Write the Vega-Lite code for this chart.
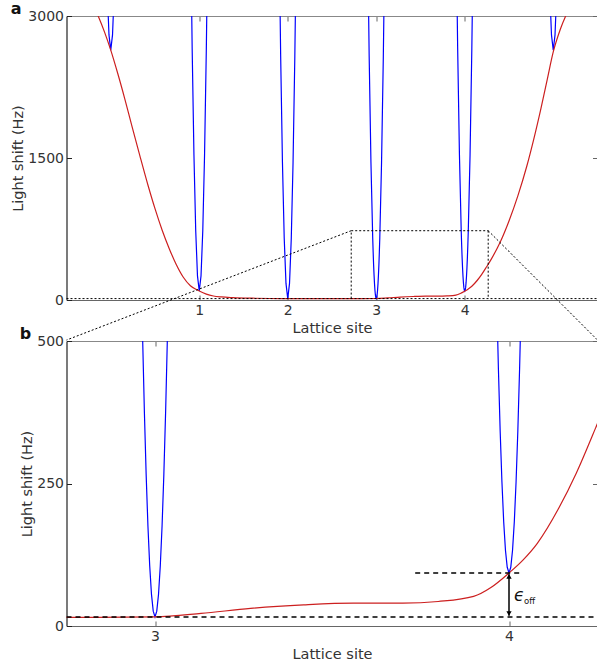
{
  "$schema": "https://vega.github.io/schema/vega-lite/v6.json",
  "background": "white",
  "padding": {"left": 10.5, "top": 1, "right": 0, "bottom": 0},
  "spacing": -17,
  "config": {
    "font": "DejaVu Sans",
    "view": {"stroke": null},
    "axis": {
      "labelFont": "DejaVu Sans", "titleFont": "DejaVu Sans",
      "labelFontSize": 14, "titleFontSize": 14.5, "titleFontWeight": "normal",
      "labelColor": "#333", "titleColor": "#333", "format": "d",
      "grid": false, "tickSize": -5, "labelPadding": 8, "titlePadding": 2,
      "domainColor": "#666", "tickColor": "#666", "domainWidth": 1.2, "tickWidth": 1
    },
    "axisX": {"titlePadding": 4},
    "title": {"font": "DejaVu Sans", "fontSize": 16, "fontWeight": "bold", "color": "#111", "anchor": "start", "frame": "bounds", "baseline": "alphabetic"}
  },
  "datasets": {
    "red": [
      {"x": -0.2, "hz": 3120}, {"x": -0.142, "hz": 3000}, {"x": -0.07, "hz": 2830}, {"x": 0.0, "hz": 2640},
      {"x": 0.08, "hz": 2390}, {"x": 0.16, "hz": 2120}, {"x": 0.24, "hz": 1835}, {"x": 0.33, "hz": 1520},
      {"x": 0.42, "hz": 1215}, {"x": 0.5, "hz": 965}, {"x": 0.58, "hz": 740}, {"x": 0.66, "hz": 545},
      {"x": 0.74, "hz": 375}, {"x": 0.82, "hz": 240}, {"x": 0.9, "hz": 150}, {"x": 1.0, "hz": 95},
      {"x": 1.08, "hz": 62}, {"x": 1.16, "hz": 42}, {"x": 1.25, "hz": 32}, {"x": 1.38, "hz": 25},
      {"x": 1.6, "hz": 19}, {"x": 1.8, "hz": 16}, {"x": 2.0, "hz": 15}, {"x": 2.25, "hz": 14},
      {"x": 2.5, "hz": 14}, {"x": 2.75, "hz": 15}, {"x": 3.0, "hz": 16}, {"x": 3.13, "hz": 22},
      {"x": 3.27, "hz": 31}, {"x": 3.42, "hz": 37}, {"x": 3.56, "hz": 40}, {"x": 3.7, "hz": 40},
      {"x": 3.8, "hz": 43}, {"x": 3.9, "hz": 52}, {"x": 3.95, "hz": 68}, {"x": 4.0, "hz": 93},
      {"x": 4.04, "hz": 116}, {"x": 4.08, "hz": 145}, {"x": 4.14, "hz": 206}, {"x": 4.19, "hz": 268},
      {"x": 4.245, "hz": 348}, {"x": 4.3, "hz": 432}, {"x": 4.4, "hz": 610}, {"x": 4.5, "hz": 835},
      {"x": 4.6, "hz": 1100}, {"x": 4.7, "hz": 1410}, {"x": 4.78, "hz": 1700}, {"x": 4.86, "hz": 2020},
      {"x": 4.93, "hz": 2320}, {"x": 5.0, "hz": 2620}, {"x": 5.08, "hz": 2860}, {"x": 5.16, "hz": 3040},
      {"x": 5.22, "hz": 3150}
    ],
    "blue": [
      {"s": 0, "x": -0.06, "hz": 4080}, {"s": 0, "x": -0.04, "hz": 3280}, {"s": 0, "x": -0.02, "hz": 2800}, {"s": 0, "x": 0.0, "hz": 2640}, {"s": 0, "x": 0.02, "hz": 2800}, {"s": 0, "x": 0.04, "hz": 3280}, {"s": 0, "x": 0.06, "hz": 4080},
      {"s": 1, "x": 0.9, "hz": 4095}, {"s": 1, "x": 0.92, "hz": 2655}, {"s": 1, "x": 0.94, "hz": 1535}, {"s": 1, "x": 0.96, "hz": 735}, {"s": 1, "x": 0.98, "hz": 255}, {"s": 1, "x": 1.0, "hz": 95}, {"s": 1, "x": 1.02, "hz": 255}, {"s": 1, "x": 1.04, "hz": 735}, {"s": 1, "x": 1.06, "hz": 1535}, {"s": 1, "x": 1.08, "hz": 2655}, {"s": 1, "x": 1.1, "hz": 4095},
      {"s": 2, "x": 1.9, "hz": 4015}, {"s": 2, "x": 1.92, "hz": 2575}, {"s": 2, "x": 1.94, "hz": 1455}, {"s": 2, "x": 1.96, "hz": 655}, {"s": 2, "x": 1.98, "hz": 175}, {"s": 2, "x": 2.0, "hz": 15}, {"s": 2, "x": 2.02, "hz": 175}, {"s": 2, "x": 2.04, "hz": 655}, {"s": 2, "x": 2.06, "hz": 1455}, {"s": 2, "x": 2.08, "hz": 2575}, {"s": 2, "x": 2.1, "hz": 4015},
      {"s": 3, "x": 2.9, "hz": 4016}, {"s": 3, "x": 2.92, "hz": 2576}, {"s": 3, "x": 2.94, "hz": 1456}, {"s": 3, "x": 2.96, "hz": 656}, {"s": 3, "x": 2.965, "hz": 506}, {"s": 3, "x": 2.97, "hz": 376}, {"s": 3, "x": 2.975, "hz": 266}, {"s": 3, "x": 2.98, "hz": 176}, {"s": 3, "x": 2.985, "hz": 106}, {"s": 3, "x": 2.99, "hz": 56}, {"s": 3, "x": 2.995, "hz": 26}, {"s": 3, "x": 3.0, "hz": 16},
      {"s": 3, "x": 3.005, "hz": 26}, {"s": 3, "x": 3.01, "hz": 56}, {"s": 3, "x": 3.015, "hz": 106}, {"s": 3, "x": 3.02, "hz": 176}, {"s": 3, "x": 3.025, "hz": 266}, {"s": 3, "x": 3.03, "hz": 376}, {"s": 3, "x": 3.035, "hz": 506}, {"s": 3, "x": 3.04, "hz": 656}, {"s": 3, "x": 3.06, "hz": 1456}, {"s": 3, "x": 3.08, "hz": 2576}, {"s": 3, "x": 3.1, "hz": 4016},
      {"s": 4, "x": 3.9, "hz": 4093}, {"s": 4, "x": 3.92, "hz": 2653}, {"s": 4, "x": 3.94, "hz": 1533}, {"s": 4, "x": 3.96, "hz": 733}, {"s": 4, "x": 3.965, "hz": 583}, {"s": 4, "x": 3.97, "hz": 453}, {"s": 4, "x": 3.975, "hz": 343}, {"s": 4, "x": 3.98, "hz": 253}, {"s": 4, "x": 3.985, "hz": 183}, {"s": 4, "x": 3.99, "hz": 133}, {"s": 4, "x": 3.995, "hz": 103}, {"s": 4, "x": 4.0, "hz": 93},
      {"s": 4, "x": 4.005, "hz": 103}, {"s": 4, "x": 4.01, "hz": 133}, {"s": 4, "x": 4.015, "hz": 183}, {"s": 4, "x": 4.02, "hz": 253}, {"s": 4, "x": 4.025, "hz": 343}, {"s": 4, "x": 4.03, "hz": 453}, {"s": 4, "x": 4.035, "hz": 583}, {"s": 4, "x": 4.04, "hz": 733}, {"s": 4, "x": 4.06, "hz": 1533}, {"s": 4, "x": 4.08, "hz": 2653}, {"s": 4, "x": 4.1, "hz": 4093},
      {"s": 5, "x": 4.94, "hz": 4080}, {"s": 5, "x": 4.96, "hz": 3280}, {"s": 5, "x": 4.98, "hz": 2800}, {"s": 5, "x": 5.0, "hz": 2640}, {"s": 5, "x": 5.02, "hz": 2800}, {"s": 5, "x": 5.04, "hz": 3280}, {"s": 5, "x": 5.06, "hz": 4080}
    ],
    "zoomA": [
      {"x": 2.717, "y": 15, "x2": 2.717, "y2": 732},
      {"x": 2.717, "y": 732, "x2": 4.265, "y2": 732},
      {"x": 4.265, "y": 732, "x2": 4.265, "y2": 15},
      {"x": -0.5, "y": 15, "x2": 5.5, "y2": 15},
      {"x": 2.717, "y": 732, "x2": -0.5, "y2": -423},
      {"x": 4.265, "y": 732, "x2": 5.5, "y2": -423}
    ],
    "dashB": [
      {"x": 2.75, "y": 16, "x2": 4.25, "y2": 16},
      {"x": 3.735, "y": 93, "x2": 4.04, "y2": 93}
    ],
    "arrow": [{"x": 4, "y": 18, "x2": 4, "y2": 91}],
    "headUp": [{"x": 4, "hz": 87}],
    "headDown": [{"x": 4, "hz": 22}],
    "eps": [{"x": 4, "hz": 43, "t": "ϵ"}],
    "epsSub": [{"x": 4, "hz": 39, "t": "off"}]
  },
  "vconcat": [
    {
      "width": 531, "height": 284,
      "title": {"text": "a", "offset": -8.3},
      "resolve": {"axis": {"x": "independent", "y": "independent"}},
      "layer": [
        {
          "data": {"name": "blue"},
          "mark": {"type": "line", "color": "#0000ff", "strokeWidth": 1.2, "clip": true},
          "encoding": {
            "x": {"field": "x", "type": "quantitative", "scale": {"domain": [-0.5, 5.5], "nice": false, "zero": false},
                  "axis": {"orient": "bottom", "values": [1, 2, 3, 4], "title": "Lattice site"}},
            "y": {"field": "hz", "type": "quantitative", "scale": {"domain": [0, 3000], "nice": false, "zero": false},
                  "axis": {"orient": "left", "values": [0, 1500, 3000], "title": "Light shift (Hz)", "domainColor": "#222", "tickColor": "#222"}},
            "detail": {"field": "s", "type": "nominal"}
          }
        },
        {
          "data": {"name": "red"},
          "mark": {"type": "line", "color": "#cc1f1f", "strokeWidth": 1.2, "clip": true, "interpolate": "monotone"},
          "encoding": {
            "x": {"field": "x", "type": "quantitative", "scale": {"domain": [-0.5, 5.5], "nice": false, "zero": false},
                  "axis": {"orient": "top", "values": [1, 2, 3, 4], "labels": false, "title": null, "domainColor": "#888"}},
            "y": {"field": "hz", "type": "quantitative", "scale": {"domain": [0, 3000], "nice": false, "zero": false},
                  "axis": {"orient": "right", "values": [0, 1500, 3000], "labels": false, "title": null, "domain": false}}
          }
        },
        {
          "data": {"name": "zoomA"},
          "mark": {"type": "rule", "color": "#000", "strokeWidth": 1, "strokeDash": [2, 2], "clip": false},
          "encoding": {
            "x": {"field": "x", "type": "quantitative", "scale": {"domain": [-0.5, 5.5], "nice": false, "zero": false}, "axis": null},
            "y": {"field": "y", "type": "quantitative", "scale": {"domain": [0, 3000], "nice": false, "zero": false}, "axis": null},
            "x2": {"field": "x2"},
            "y2": {"field": "y2"}
          }
        }
      ]
    },
    {
      "width": 531, "height": 285,
      "title": {"text": "b", "offset": -8},
      "resolve": {"axis": {"x": "independent", "y": "independent"}},
      "layer": [
        {
          "data": {"name": "blue"},
          "mark": {"type": "line", "color": "#0000ff", "strokeWidth": 1.2, "clip": true},
          "encoding": {
            "x": {"field": "x", "type": "quantitative", "scale": {"domain": [2.75, 4.25], "nice": false, "zero": false},
                  "axis": {"orient": "bottom", "values": [3, 4], "title": "Lattice site"}},
            "y": {"field": "hz", "type": "quantitative", "scale": {"domain": [0, 500], "nice": false, "zero": false},
                  "axis": {"orient": "left", "values": [0, 250, 500], "title": "Light shift (Hz)", "domainColor": "#222", "tickColor": "#222"}},
            "detail": {"field": "s", "type": "nominal"}
          }
        },
        {
          "data": {"name": "red"},
          "mark": {"type": "line", "color": "#cc1f1f", "strokeWidth": 1.2, "clip": true, "interpolate": "monotone"},
          "encoding": {
            "x": {"field": "x", "type": "quantitative", "scale": {"domain": [2.75, 4.25], "nice": false, "zero": false},
                  "axis": {"orient": "top", "values": [3, 4], "labels": false, "title": null, "domainColor": "#888"}},
            "y": {"field": "hz", "type": "quantitative", "scale": {"domain": [0, 500], "nice": false, "zero": false},
                  "axis": {"orient": "right", "values": [0, 250, 500], "labels": false, "title": null, "domain": false}}
          }
        },
        {
          "data": {"name": "dashB"},
          "mark": {"type": "rule", "color": "#000", "strokeWidth": 1.5, "strokeDash": [5, 4], "clip": true},
          "encoding": {
            "x": {"field": "x", "type": "quantitative", "scale": {"domain": [2.75, 4.25], "nice": false, "zero": false}, "axis": null},
            "y": {"field": "y", "type": "quantitative", "scale": {"domain": [0, 500], "nice": false, "zero": false}, "axis": null},
            "x2": {"field": "x2"},
            "y2": {"field": "y2"}
          }
        },
        {
          "data": {"name": "arrow"},
          "mark": {"type": "rule", "color": "#000", "strokeWidth": 1.5},
          "encoding": {
            "x": {"field": "x", "type": "quantitative", "axis": null},
            "y": {"field": "y", "type": "quantitative", "axis": null},
            "x2": {"field": "x2"},
            "y2": {"field": "y2"}
          }
        },
        {
          "data": {"name": "headUp"},
          "mark": {"type": "point", "shape": "triangle-up", "filled": true, "color": "#000", "size": 28, "opacity": 1},
          "encoding": {
            "x": {"field": "x", "type": "quantitative", "axis": null},
            "y": {"field": "hz", "type": "quantitative", "axis": null}
          }
        },
        {
          "data": {"name": "headDown"},
          "mark": {"type": "point", "shape": "triangle-down", "filled": true, "color": "#000", "size": 28, "opacity": 1},
          "encoding": {
            "x": {"field": "x", "type": "quantitative", "axis": null},
            "y": {"field": "hz", "type": "quantitative", "axis": null}
          }
        },
        {
          "data": {"name": "eps"},
          "mark": {"type": "text", "font": "DejaVu Sans", "fontSize": 17, "fontStyle": "italic", "align": "left", "baseline": "alphabetic", "dx": 5, "color": "#111"},
          "encoding": {
            "x": {"field": "x", "type": "quantitative", "axis": null},
            "y": {"field": "hz", "type": "quantitative", "axis": null},
            "text": {"field": "t"}
          }
        },
        {
          "data": {"name": "epsSub"},
          "mark": {"type": "text", "font": "DejaVu Sans", "fontSize": 8.5, "align": "left", "baseline": "alphabetic", "dx": 15, "color": "#111"},
          "encoding": {
            "x": {"field": "x", "type": "quantitative", "axis": null},
            "y": {"field": "hz", "type": "quantitative", "axis": null},
            "text": {"field": "t"}
          }
        }
      ]
    }
  ]
}
